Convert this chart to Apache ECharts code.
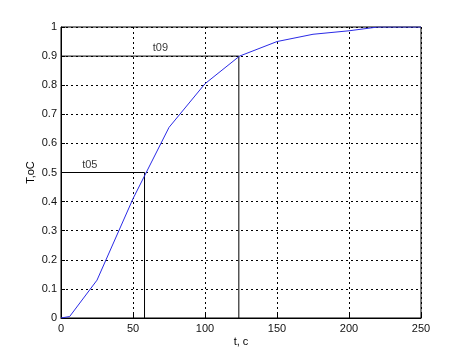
<!DOCTYPE html>
<html>
<head>
<meta charset="utf-8">
<script src="https://cdn.jsdelivr.net/npm/echarts@6/dist/echarts.min.js"></script>
<style>html,body{margin:0;padding:0;background:#fff}#c{width:465px;height:357px}</style>
</head>
<body>
<div id="c"></div>
<script>
// Data
const timeValues = [0, 6, 25, 50, 75, 100, 124, 150, 175, 200, 220, 250];
const tempValues = [0, 0.005, 0.13, 0.41, 0.655, 0.805, 0.9, 0.95, 0.975, 0.987, 1, 1];
const t05Value = 58;
const t09Value = 123.5;
const markerLabels = ['t05', 't09'];
const markerLevels = [0.5, 0.9];
const labelPositions = [[20, 0.525], [69, 0.928]];
const xTicks = [0, 50, 100, 150, 200, 250];
const yTicks = [0, 0.1, 0.2, 0.3, 0.4, 0.5, 0.6, 0.7, 0.8, 0.9, 1];

const font = 'Liberation Sans, Arial, sans-serif';
const curve = timeValues.map((t, i) => [t, tempValues[i]]);
const markerTimes = [t05Value, t09Value];
const guide = (i) => [[0, markerLevels[i]], [markerTimes[i], markerLevels[i]], [markerTimes[i], 0]];

const chart = echarts.init(document.getElementById('c'));
chart.setOption({
  animation: false,
  grid: { left: 61, right: 44, top: 27, bottom: 39, show: true, borderColor: '#000', borderWidth: 1, backgroundColor: 'transparent' },
  xAxis: {
    type: 'value', min: 0, max: 250, interval: 50,
    name: 't, c', nameLocation: 'middle', nameGap: 18, nameMoveOverlap: false,
    nameTextStyle: { fontFamily: font, fontSize: 11, color: '#000' },
    axisLine: { show: true, lineStyle: { color: '#000', width: 1 } },
    axisTick: { show: true, inside: true, length: 4, lineStyle: { color: '#000' } },
    axisLabel: { fontFamily: font, fontSize: 11, color: '#111', margin: 5,
      formatter: v => xTicks.includes(v) ? String(v) : '' },
    splitLine: { show: true, lineStyle: { color: '#000', type: [2, 3], width: 1 } }
  },
  yAxis: {
    type: 'value', min: 0, max: 1, interval: 0.1,
    name: 'T,oC', nameLocation: 'middle', nameGap: 25, nameMoveOverlap: false,
    nameTextStyle: { fontFamily: font, fontSize: 11, color: '#000' },
    axisLine: { show: true, lineStyle: { color: '#000', width: 1 } },
    axisTick: { show: true, inside: true, length: 4, lineStyle: { color: '#000' } },
    axisLabel: { fontFamily: font, fontSize: 11, color: '#111', margin: 4,
      formatter: v => { const r = Math.round(v * 10) / 10; return yTicks.includes(r) ? String(r) : ''; } },
    splitLine: { show: true, lineStyle: { color: '#000', type: [2, 3], width: 1 } }
  },
  series: [
    { type: 'line', data: guide(0), symbol: 'none', lineStyle: { color: '#000', width: 1 }, z: 3 },
    { type: 'line', data: guide(1), symbol: 'none', lineStyle: { color: '#000', width: 1 }, z: 3 },
    { type: 'line', data: curve, symbol: 'none', lineStyle: { color: '#2a2ae6', width: 1 }, z: 4 },
    { type: 'scatter', symbolSize: 0, silent: true,
      data: labelPositions.map((p, i) => ({ value: p, name: markerLabels[i] })),
      label: { show: true, position: 'inside', formatter: p => p.name, fontFamily: font, fontSize: 11, color: '#000' } }
  ]
});
</script>
</body>
</html>
